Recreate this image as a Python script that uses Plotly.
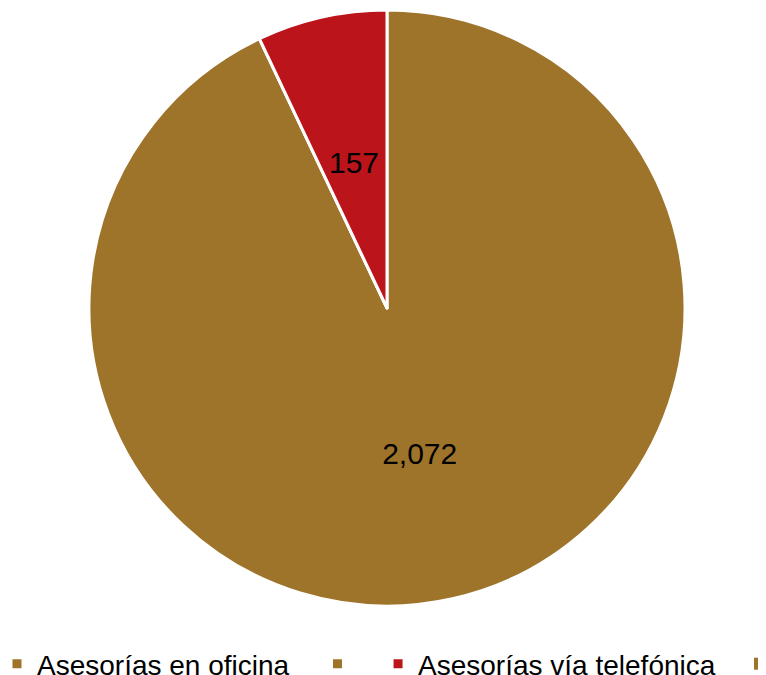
import math
import plotly.graph_objects as go

# Data
labels = ["Asesorías en oficina\u00a0\u00a0\u00a0", "\u00a0\u00a0", "Asesorías vía telefónica"]
values = [2072, 0, 157]
colors = ["#9e742b", "#9e742b", "#bb141a"]

extra_label = ["\u00a0\u00a0\u00a0"]
extra_value = [1]
extra_color = ["#9e742b"]

W, H = 766, 675
mb = 40
gw, gh = W, H - mb
cx, cy, r = 379, 300, 298  # pie centre/radius in figure pixels

dom_x = [(cx - r) / gw, (cx + r) / gw]
dom_y = [(gh - cy - r) / gh, (gh - cy + r) / gh]

fig = go.Figure()

fig.add_trace(go.Pie(
    labels=labels, values=values, sort=False, direction="clockwise", rotation=0,
    marker=dict(colors=colors, line=dict(color="white", width=3)),
    texttemplate=["%{value:,}", "", ""], textposition="inside", insidetextorientation="horizontal",
    textfont=dict(family="Liberation Sans", size=30, color="black"),
    domain=dict(x=dom_x, y=dom_y),
    hoverinfo="label+value", legend="legend", showlegend=True,
))

fig.add_trace(go.Pie(
    labels=extra_label, values=extra_value, sort=False,
    marker=dict(colors=extra_color, line=dict(width=0)),
    textinfo="none", domain=dict(x=[0.5, 0.50001], y=[0.5, 0.50001]),
    hoverinfo="skip", legend="legend2", showlegend=True,
))

# label for the narrow slice, placed at half radius along its mid angle
total = sum(values)
start = sum(values[:2])
mid = (start + values[2] / 2) / total * 2 * math.pi
fig.add_annotation(
    x=(cx + 0.5 * r * math.sin(mid)) / gw, y=(gh - cy + 0.5 * r * math.cos(mid)) / gh,
    xref="paper", yref="paper", xanchor="center", yanchor="middle",
    text=f"{values[2]:,}", showarrow=False,
    font=dict(family="Liberation Sans", size=30, color="black"),
)

fig.update_layout(
    width=W, height=H, showlegend=True,
    margin=dict(l=0, r=0, t=0, b=mb, autoexpand=False),
    paper_bgcolor="white", plot_bgcolor="white",
    font=dict(family="Liberation Sans", size=28, color="black"),
    legend=dict(orientation="h", x=-11 / gw, xanchor="left", y=-(H - 19 - gh) / gh, yanchor="middle",
                font=dict(size=28), bgcolor="rgba(0,0,0,0)"),
    legend2=dict(orientation="h", x=(752 - 20) / gw, xanchor="left", y=-(H - 19 - gh) / gh, yanchor="middle",
                 font=dict(size=28), bgcolor="rgba(0,0,0,0)"),
)

fig.write_html("out.html")
